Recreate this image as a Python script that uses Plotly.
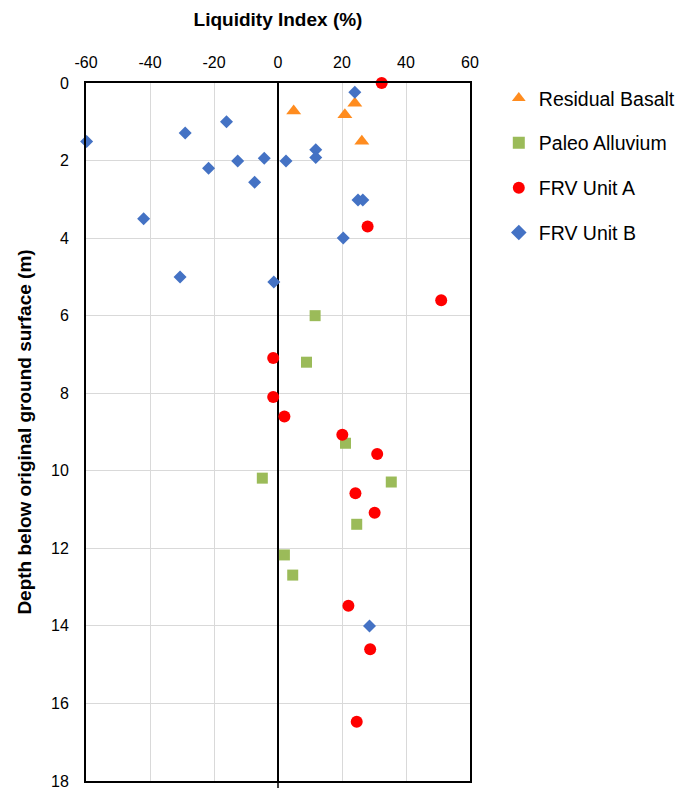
import plotly.graph_objects as go

# Liquidity index (%) and depth (m) for each unit
basalt_li = [4.9, 24.0, 20.9, 26.2]
basalt_depth = [0.72, 0.52, 0.82, 1.5]

alluvium_li = [11.6, 8.9, 21.1, -4.9, 35.4, 24.6, 2.0, 4.6]
alluvium_depth = [6.0, 7.2, 9.29, 10.19, 10.29, 11.38, 12.17, 12.69]

unit_a_li = [32.4, 28.0, 51.0, -1.5, -1.5, 2.0, 20.1, 31.0, 24.2, 30.2, 22.0, 28.8, 24.6]
unit_a_depth = [0.0, 3.7, 5.6, 7.09, 8.1, 8.6, 9.07, 9.57, 10.58, 11.08, 13.48, 14.6, 16.47]

unit_b_li = [24.0, -16.1, -29.0, -59.8, 11.8, 11.8, -4.3, -12.6, 2.5, -21.7, -7.3,
             25.0, 26.5, -42.0, 20.4, -30.6, -1.3, 28.6]
unit_b_depth = [0.24, 1.0, 1.29, 1.51, 1.72, 1.92, 1.94, 2.01, 2.01, 2.2, 2.56,
                3.02, 3.02, 3.5, 4.0, 5.0, 5.13, 14.0]

x_ticks = [-60, -40, -20, 0, 20, 40, 60]
y_ticks = [0, 2, 4, 6, 8, 10, 12, 14, 16, 18]

series = [
    ("Residual Basalt", basalt_li, basalt_depth, "triangle-up", "#FF8C1F", 13),
    ("Paleo Alluvium", alluvium_li, alluvium_depth, "square", "#9BBB59", 11),
    ("FRV Unit A", unit_a_li, unit_a_depth, "circle", "#FF0000", 12),
    ("FRV Unit B", unit_b_li, unit_b_depth, "diamond", "#4472C4", 10),
]

fig = go.Figure()
for name, xs, ys, sym, col, size in series:
    fig.add_trace(go.Scatter(
        x=xs, y=ys, mode="markers", name=name, legendgroup=name,
        marker=dict(symbol=sym, color=col, size=size, line=dict(width=0)),
        cliponaxis=False,
    ))

font_family = "Liberation Sans, Arial, sans-serif"

fig.update_layout(
    width=689, height=789,
    margin=dict(l=86, r=215, t=83, b=8),
    paper_bgcolor="white", plot_bgcolor="white",
    font=dict(family=font_family, size=16, color="black"),
    showlegend=True,
    legend=dict(
        x=1.075, y=1.006, xanchor="left", yanchor="top",
        font=dict(size=19.5), traceorder="grouped", tracegroupgap=16.5,
        itemsizing="constant", bgcolor="rgba(0,0,0,0)",
    ),
    xaxis=dict(
        side="top", range=[-60, 60], tickvals=x_ticks,
        ticktext=[str(v) for v in x_ticks],
        showgrid=True, gridcolor="#D9D9D9", gridwidth=1,
        zeroline=True, zerolinecolor="black", zerolinewidth=1.5,
        showline=True, linecolor="black", linewidth=2, mirror=True,
        ticks="", tickfont=dict(size=16), ticklabelstandoff=7,
        automargin=False, ticklabeloverflow="allow",
        title=dict(text="<b>Liquidity Index (%)</b>", font=dict(size=19), standoff=22),
    ),
    yaxis=dict(
        range=[18, 0], tickvals=y_ticks,
        showgrid=True, gridcolor="#D9D9D9", gridwidth=1,
        zeroline=False,
        showline=True, linecolor="black", linewidth=2, mirror=True,
        ticks="", tickfont=dict(size=16), ticklabelstandoff=12,
        automargin=False, ticklabeloverflow="allow",
        title=dict(text="<b>Depth below original ground surface (m)</b>", font=dict(size=19), standoff=14),
    ),
)

# short tick of the vertical axis below the frame
fig.add_shape(type="line", xref="x", yref="paper", x0=0, x1=0, y0=0, y1=-0.01,
              line=dict(color="black", width=1.5))

fig.write_html("out.html")
